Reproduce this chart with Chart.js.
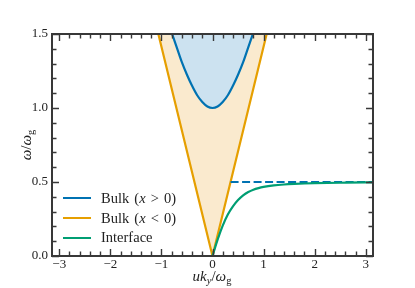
<!DOCTYPE html>
<html>
<head>
<meta charset="utf-8">
<script src="https://cdn.jsdelivr.net/npm/chart.js@4.4.1/dist/chart.umd.min.js"></script>
<style>
  html, body { margin: 0; padding: 0; background: #fff; }
  #wrap { position: relative; width: 415px; height: 288px; overflow: hidden; }
  canvas { position: absolute; left: 0; top: 0; }
  .txt { position: absolute; font-family: "Liberation Serif", "DejaVu Serif", serif; color: #222; white-space: nowrap; }
  .txt sub { font-size: 70%; vertical-align: -0.3em; line-height: 0; }
  #xtitle { font-size: 15px; left: 212px; top: 276px; transform: translate(-50%, -50%); }
  #ytitle { font-size: 15px; left: 26px; top: 145px; transform: translate(-50%, -50%) rotate(-90deg); }
  .leg { position: absolute; left: 63px; height: 20px; display: flex; align-items: center; transform: translateY(-50%); }
  .leg .sw { width: 28px; height: 2px; margin-right: 10px; }
  .leg .lb { font-family: "Liberation Serif", "DejaVu Serif", serif; font-size: 14.5px; color: #222; white-space: nowrap; word-spacing: 1.5px; }
</style>
</head>
<body>
<div id="wrap">
  <canvas id="c" width="415" height="288"></canvas>
  <div id="xtitle" class="txt"><i>uk<sub>y</sub></i>/<i>ω</i><sub>g</sub></div>
  <div id="ytitle" class="txt"><i>ω</i>/<i>ω</i><sub>g</sub></div>
  <div id="legend"></div>
</div>
<script>
// ---- Data ----
const X_TICKS = [-3, -2, -1, 0, 1, 2, 3];
const X_TICK_LABELS = ['\u22123', '\u22122', '\u22121', '0', '1', '2', '3'];
const Y_TICKS = [0, 0.5, 1.0, 1.5];
const Y_TICK_LABELS = ['0.0', '0.5', '1.0', '1.5'];

// Bulk (x > 0): gapped band
const bulkPosK = [-0.8, -0.7, -0.6, -0.5, -0.4, -0.3, -0.2, -0.1, 0, 0.1, 0.2, 0.3, 0.4, 0.5, 0.6, 0.7, 0.8];
const bulkPosW = [1.51, 1.41, 1.31, 1.225, 1.15, 1.086, 1.04, 1.01, 1.0, 1.01, 1.04, 1.086, 1.15, 1.225, 1.31, 1.41, 1.51];

// Bulk (x < 0): gapless cone
const bulkNegK = [-1.06, 0, 1.06];
const bulkNegW = [1.5, 0, 1.5];

// Interface mode
const interfaceK = [0, 0.1, 0.2, 0.3, 0.4, 0.5, 0.6, 0.7, 0.8, 0.9, 1.0, 1.2, 1.4, 1.6, 1.8, 2.0, 2.5, 3.0, 3.1416];
const interfaceW = [0, 0.11, 0.205, 0.28, 0.335, 0.378, 0.41, 0.432, 0.448, 0.459, 0.467, 0.477, 0.483, 0.487, 0.49, 0.492, 0.495, 0.497, 0.497];

// Asymptote (dashed)
const asymK = [0.354, 3.1416];
const asymW = [0.5, 0.5];

const X_RANGE = [-3.1416, 3.1416];
const Y_RANGE = [0, 1.5];

// ---- Styles ----
const C_BLUE = '#0072b2';
const C_ORANGE = '#e69f00';
const C_GREEN = '#009e73';
const F_BLUE = 'rgb(204,226,240)';
const F_ORANGE = 'rgb(250,234,206)';
const AXIS_COLOR = '#383838';
const TICK_FONT = { family: '"Liberation Serif", "DejaVu Serif", serif', size: 13 };

const pts = (xs, ys) => xs.map((x, i) => ({ x: x, y: ys[i] }));

const datasets = [
  { label: 'Bulk (x > 0)', data: pts(bulkPosK, bulkPosW), borderColor: C_BLUE, backgroundColor: F_BLUE,
    fill: 'end', borderWidth: 2.2, pointRadius: 0, cubicInterpolationMode: 'monotone', order: 2 },
  { label: 'Bulk (x < 0)', data: pts(bulkNegK, bulkNegW), borderColor: C_ORANGE, backgroundColor: F_ORANGE,
    fill: 'end', borderWidth: 2.2, pointRadius: 0, tension: 0, order: 3 },
  { label: 'Interface', data: pts(interfaceK, interfaceW), borderColor: C_GREEN,
    fill: false, borderWidth: 2.2, pointRadius: 0, cubicInterpolationMode: 'monotone', order: 1 },
  { label: 'asymptote', data: pts(asymK, asymW), borderColor: C_BLUE, borderDash: [8, 3.5],
    fill: false, borderWidth: 2.2, pointRadius: 0, order: 1 }
];

const legendItems = [0, 1, 2];
const legendHtml = {0: 'Bulk (<i>x</i> &gt; 0)', 1: 'Bulk (<i>x</i> &lt; 0)', 2: 'Interface'};
const legendY = [198, 218, 237.5];
const legEl = document.getElementById('legend');
legendItems.forEach((di, i) => {
  const d = document.createElement('div');
  d.className = 'leg';
  d.style.top = legendY[i] + 'px';
  d.innerHTML = '<div class="sw" style="background:' + datasets[di].borderColor + '"></div><span class="lb">' + legendHtml[di] + '</span>';
  legEl.appendChild(d);
});

const frameTicks = {
  id: 'frameTicks',
  afterDraw(chart) {
    const ctx = chart.ctx, a = chart.chartArea, xs = chart.scales.x, ys = chart.scales.y;
    ctx.save();
    ctx.strokeStyle = AXIS_COLOR;
    ctx.lineWidth = 1.4;
    const MAJ = 7, MIN = 4.5;
    const xMinor = [];
    for (let v = -30; v <= 30; v += 2) xMinor.push(v / 10);
    const yMinor = [];
    for (let v = 0; v <= 15; v += 1) yMinor.push(v / 10);
    ctx.beginPath();
    xMinor.forEach(v => {
      const isMaj = X_TICKS.some(t => Math.abs(t - v) < 1e-6);
      const L = isMaj ? MAJ : MIN;
      const px = Math.round(xs.getPixelForValue(v)) + 0.5;
      ctx.moveTo(px, a.bottom); ctx.lineTo(px, a.bottom - L);
      ctx.moveTo(px, a.top); ctx.lineTo(px, a.top + L);
    });
    yMinor.forEach(v => {
      const isMaj = Y_TICKS.some(t => Math.abs(t - v) < 1e-6);
      const L = isMaj ? MAJ : MIN;
      const py = Math.round(ys.getPixelForValue(v)) + 0.5;
      ctx.moveTo(a.left, py); ctx.lineTo(a.left + L, py);
      ctx.moveTo(a.right, py); ctx.lineTo(a.right - L, py);
    });
    ctx.stroke();
    ctx.lineWidth = 2;
    ctx.strokeRect(a.left, a.top, a.right - a.left, a.bottom - a.top);
    ctx.restore();
  }
};

new Chart(document.getElementById('c'), {
  type: 'line',
  data: { datasets: datasets },
  plugins: [frameTicks],
  options: {
    responsive: false,
    animation: false,
    devicePixelRatio: 1,
    layout: { padding: { left: 0, top: 34, right: 42, bottom: 0 } },
    plugins: { legend: { display: false }, tooltip: { enabled: false } },
    scales: {
      x: {
        type: 'linear', min: X_RANGE[0], max: X_RANGE[1],
        grid: { display: false, drawTicks: false, tickLength: 0 }, border: { display: false },
        afterBuildTicks: s => { s.ticks = X_TICKS.map(v => ({ value: v })); },
        afterFit: s => { s.height = 32; },
        ticks: {
          autoSkip: false, maxRotation: 0, padding: 1, color: '#222', font: TICK_FONT,
          callback: (v, i) => X_TICK_LABELS[i]
        }
      },
      y: {
        type: 'linear', min: Y_RANGE[0], max: Y_RANGE[1],
        grid: { display: false, drawTicks: false, tickLength: 0 }, border: { display: false },
        afterBuildTicks: s => { s.ticks = Y_TICKS.map(v => ({ value: v })); },
        afterFit: s => { s.width = 52; },
        ticks: {
          autoSkip: false, padding: 4, color: '#222', font: TICK_FONT,
          callback: (v, i) => Y_TICK_LABELS[i]
        }
      }
    }
  }
});
</script>
</body>
</html>
